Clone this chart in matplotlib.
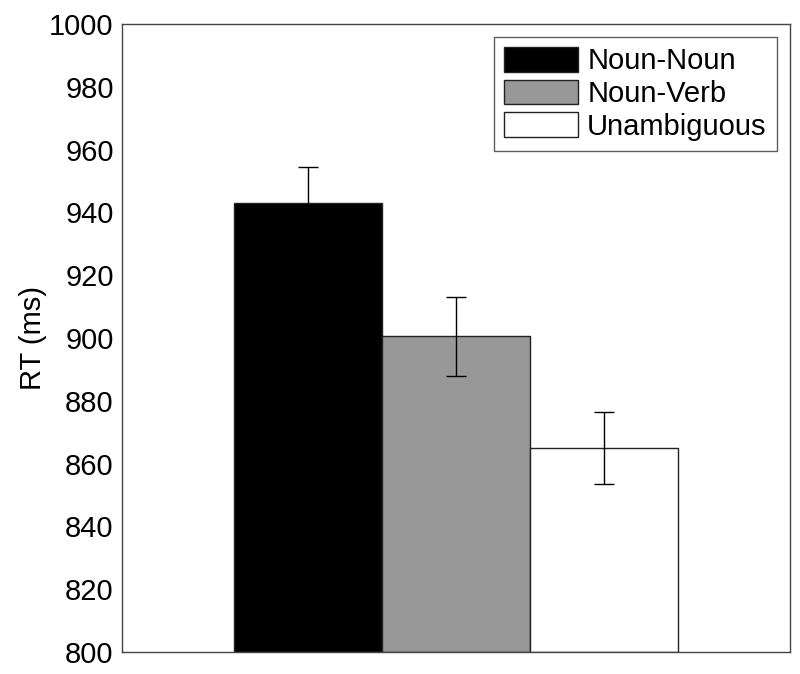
import matplotlib
matplotlib.use('Agg')
import matplotlib.pyplot as plt
import numpy as np

plt.rcParams['font.family'] = ['Liberation Sans', 'DejaVu Sans']

# data
conditions = ['Noun-Noun', 'Noun-Verb', 'Unambiguous']
rt_means = [943.0, 900.5, 865.0]
rt_errors = [11.5, 12.5, 11.5]
colors = ['#000000', '#989898', '#ffffff']

fig = plt.figure(figsize=(8, 6.74), dpi=100)
ax = fig.add_axes([0.1525, 0.0326, 0.835, 0.9318])

width = 0.2216
offsets = (np.arange(len(conditions)) - 1) * width
for i, name in enumerate(conditions):
    ax.bar(1 + offsets[i], rt_means[i] - 800, width=width, bottom=800,
           color=colors[i], edgecolor='#222222', linewidth=1.0, label=name)
    ax.errorbar(1 + offsets[i], rt_means[i], yerr=rt_errors[i], fmt='none',
                ecolor='#000000', elinewidth=1.0, capsize=7, capthick=1.0)

ax.set_xlim(0.5, 1.5)
ax.set_ylim(800, 1000)
ax.set_yticks(np.arange(800, 1001, 20))
ax.set_xticks([])
ax.tick_params(axis='y', length=0, labelsize=21, pad=6)
ax.set_ylabel('RT (ms)', fontsize=21)
ax.yaxis.set_label_coords(-0.112, 0.5)
for s in ax.spines.values():
    s.set_color('#444444')
    s.set_linewidth(1.0)

leg = ax.legend(loc='upper right', fontsize=21, frameon=True, fancybox=False,
                edgecolor='#333333', handlelength=2.55, handleheight=0.9,
                handletextpad=0.3, labelspacing=0.15, borderpad=0.35,
                borderaxespad=0.45)
leg.get_frame().set_linewidth(1.0)

fig.savefig('out.png', dpi=100)
